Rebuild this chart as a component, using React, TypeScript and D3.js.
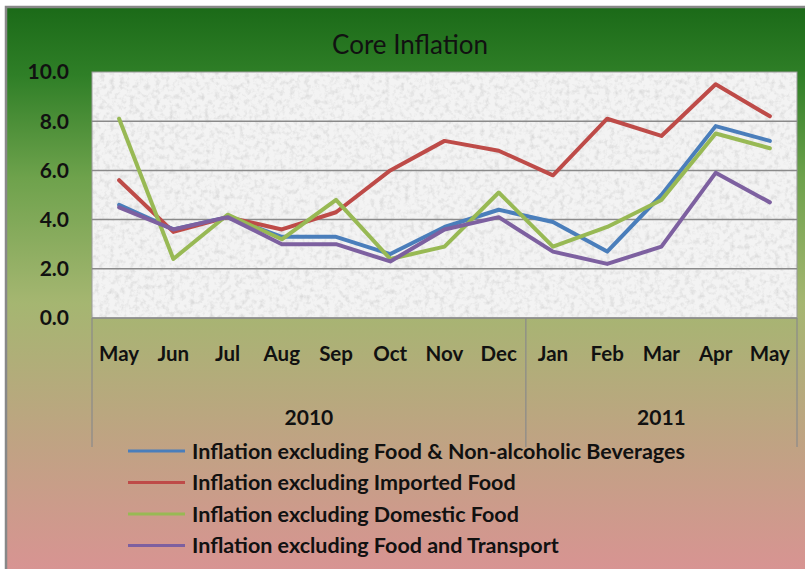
import * as d3 from "d3";
import React from "react";

const months = ["May", "Jun", "Jul", "Aug", "Sep", "Oct", "Nov", "Dec", "Jan", "Feb", "Mar", "Apr", "May"];
const years = [
  { label: "2010", from: 0, to: 8 },
  { label: "2011", from: 8, to: 13 },
];
const yTicks = [0, 2, 4, 6, 8, 10];

const exFoodBev = [4.6, 3.6, 4.1, 3.3, 3.3, 2.6, 3.7, 4.4, 3.9, 2.7, 5.0, 7.8, 7.2];
const exImported = [5.6, 3.5, 4.1, 3.6, 4.3, 6.0, 7.2, 6.8, 5.8, 8.1, 7.4, 9.5, 8.2];
const exDomestic = [8.1, 2.4, 4.2, 3.2, 4.8, 2.4, 2.9, 5.1, 2.9, 3.7, 4.8, 7.5, 6.9];
const exFoodTransport = [4.5, 3.6, 4.1, 3.0, 3.0, 2.3, 3.6, 4.1, 2.7, 2.2, 2.9, 5.9, 4.7];

const series = [
  { name: "Inflation excluding Food & Non-alcoholic Beverages", color: "#4a7ebb", values: exFoodBev },
  { name: "Inflation excluding Imported Food", color: "#be4b48", values: exImported },
  { name: "Inflation excluding Domestic Food", color: "#98b954", values: exDomestic },
  { name: "Inflation excluding Food and Transport", color: "#7d60a0", values: exFoodTransport },
];

const W = 805;
const H = 569;
const plot = { left: 92, right: 797, top: 72, bottom: 318 };
const font = "Lato, 'Open Sans', sans-serif";

const CoreInflationChart = () => {
  const x = d3
    .scaleBand<number>()
    .domain(d3.range(months.length))
    .range([plot.left, plot.right]);
  const y = d3.scaleLinear().domain([0, 10]).range([plot.bottom, plot.top]);

  const line = d3
    .line<number>()
    .x((_, i) => (x(i) as number) + x.bandwidth() / 2)
    .y((d) => y(d));

  const boundaries = [0, 8, 13].map((i) => plot.left + i * x.step());

  return (
    <svg width={W} height={H} style={{ display: "block", position: "absolute", left: 0, top: 0 }}>
      <defs>
        <linearGradient id="bg" x1="0" y1="0" x2="0" y2="1">
          <stop offset="0" stopColor="#1b6a18" />
          <stop offset="0.12" stopColor="#2f7f27" />
          <stop offset="0.3" stopColor="#6ea24c" />
          <stop offset="0.52" stopColor="#a5b671" />
          <stop offset="0.75" stopColor="#bea482" />
          <stop offset="1" stopColor="#d99393" />
        </linearGradient>
        <filter id="granite" x="0" y="0" width="100%" height="100%">
          <feTurbulence type="fractalNoise" baseFrequency="0.2" numOctaves="3" seed="4" result="noise" />
          <feColorMatrix
            in="noise"
            type="matrix"
            values="0 0 0 0 0.55  0 0 0 0 0.55  0 0 0 0 0.55  0 0 0 -2.4 1.3"
            result="spots"
          />
          <feComposite in="spots" in2="SourceGraphic" operator="in" />
        </filter>
      </defs>

      <rect x={6} y={7} width={W} height={H} fill="url(#bg)" stroke="#888" strokeWidth={2.5} />

      <text x={410} y={54} textAnchor="middle" fontFamily={font} fontSize={26} fill="#111">
        Core Inflation
      </text>

      <rect x={plot.left} y={plot.top} width={plot.right - plot.left} height={plot.bottom - plot.top} fill="#f3f3f3" />
      <rect
        x={plot.left}
        y={plot.top}
        width={plot.right - plot.left}
        height={plot.bottom - plot.top}
        fill="#f3f3f3"
        filter="url(#granite)"
        opacity={0.5}
      />
      <rect
        x={plot.left}
        y={plot.top}
        width={plot.right - plot.left}
        height={plot.bottom - plot.top}
        fill="none"
        stroke="#999"
        strokeWidth={1}
      />

      {yTicks.map((t) => (
        <g key={t}>
          {t > 0 && t < 10 && (
            <line x1={plot.left} x2={plot.right} y1={y(t)} y2={y(t)} stroke="#8a8a8a" strokeWidth={1.5} />
          )}
          <text
            x={69}
            y={y(t)}
            dy="0.35em"
            textAnchor="end"
            fontFamily={font}
            fontWeight="bold"
            fontSize={21}
            fill="#111"
          >
            {t.toFixed(1)}
          </text>
        </g>
      ))}

      <line x1={plot.left} x2={plot.right} y1={plot.bottom} y2={plot.bottom} stroke="#8a8a8a" strokeWidth={1.5} />
      {boundaries.map((bx, i) => (
        <line key={i} x1={bx} x2={bx} y1={plot.bottom} y2={447} stroke="#8a8a8a" strokeWidth={1.2} />
      ))}

      {months.map((m, i) => (
        <text
          key={i}
          x={(x(i) as number) + x.bandwidth() / 2}
          y={354}
          dy="0.35em"
          textAnchor="middle"
          fontFamily={font}
          fontWeight="bold"
          fontSize={20.5}
          fill="#111"
        >
          {m}
        </text>
      ))}

      {years.map((yr) => (
        <text
          key={yr.label}
          x={plot.left + ((yr.from + yr.to) / 2) * x.step()}
          y={418}
          dy="0.35em"
          textAnchor="middle"
          fontFamily={font}
          fontWeight="bold"
          fontSize={21}
          fill="#111"
        >
          {yr.label}
        </text>
      ))}

      {series.map((s) => (
        <path
          key={s.name}
          d={line(s.values) ?? ""}
          fill="none"
          stroke={s.color}
          strokeWidth={4}
          strokeLinejoin="round"
          strokeLinecap="round"
        />
      ))}

      {series.map((s, i) => (
        <g key={s.name} transform={`translate(128, ${451 + i * 31.5})`}>
          <line x1={0} x2={57} y1={0} y2={0} stroke={s.color} strokeWidth={3} />
          <text x={64} y={0} dy="0.35em" fontFamily={font} fontWeight="bold" fontSize={21.5} fill="#111">
            {s.name}
          </text>
        </g>
      ))}
    </svg>
  );
};

export default function App() {
  return <CoreInflationChart />;
}
